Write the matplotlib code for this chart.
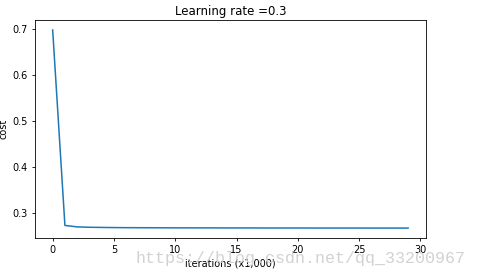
import matplotlib
matplotlib.use('Agg')
import matplotlib.pyplot as plt

ITERATIONS = list(range(30))
COSTS = [0.6975, 0.2738, 0.2707, 0.2699, 0.2695, 0.2692, 0.2690, 0.2689, 0.2688, 0.2687,
         0.2686, 0.2686, 0.2685, 0.2685, 0.2684, 0.2684, 0.2684, 0.2683, 0.2683, 0.2683,
         0.2683, 0.2682, 0.2682, 0.2682, 0.2682, 0.2682, 0.2681, 0.2681, 0.2681, 0.2681]
LEARNING_RATE = 0.3

fig = plt.figure(figsize=(4.78, 2.79), dpi=100)
ax = fig.add_axes([0.073, 0.147, 0.818, 0.781])

ax.plot(ITERATIONS, COSTS, color='#1f77b4', lw=1.1)
ax.set_xticks([0, 5, 10, 15, 20, 25, 30])
ax.set_yticks([0.3, 0.4, 0.5, 0.6, 0.7])
ax.tick_params(labelsize=7, length=2.5, width=0.6, pad=2.5)
for sp in ax.spines.values():
    sp.set_linewidth(0.6)

ax.set_ylabel('cost', fontsize=7, labelpad=3)
ax.set_xlabel('iterations (x1,000)', fontsize=7, labelpad=2.5)
ax.set_title('Learning rate =' + str(LEARNING_RATE), fontsize=8.5, pad=4)

# watermark
fig.text(0.973, 0.075, 'https://blog.csdn.net/qq_33200967', fontsize=12,
         family='Liberation Mono', color='#d2d2d2', ha='right', va='center')

fig.savefig('out.png', dpi=100, facecolor='white')
